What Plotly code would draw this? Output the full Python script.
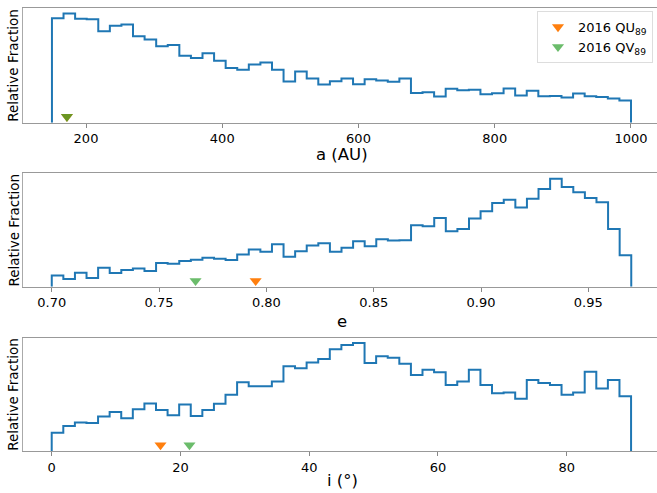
import numpy as np
import plotly.graph_objects as go

# ---- data ----
a_range = [150, 1000]
a_heights = [312, 326, 310, 309, 273, 289, 293, 258, 248, 228,
             232, 200, 193, 207, 185, 163, 158, 174, 180, 158,
             123, 153, 132, 114, 124, 132, 115, 130, 126, 122,
             132, 89, 91, 78, 101, 97, 98, 85, 88, 102,
             81, 95, 79, 80, 75, 87, 79, 77, 72, 66]

e_range = [0.70, 0.97]
e_heights = [34, 23, 42, 26, 57, 41, 50, 55, 47, 71,
             69, 77, 81, 87, 84, 80, 97, 112, 105, 128,
             90, 107, 124, 131, 105, 117, 137, 122, 143, 139,
             140, 185, 182, 207, 167, 174, 205, 227, 252, 262,
             238, 265, 294, 325, 300, 284, 267, 254, 174, 95]

i_range = [0, 90]
i_heights = [55, 76, 86, 85, 104, 118, 99, 126, 144, 124,
             108, 141, 106, 124, 143, 170, 208, 196, 196, 210,
             256, 250, 268, 278, 308, 321, 327, 266, 287, 282,
             264, 230, 246, 238, 200, 210, 246, 200, 175, 177,
             158, 215, 206, 200, 170, 177, 240, 189, 215, 166]

objects = ["2016 QU<sub>89</sub>", "2016 QV<sub>89</sub>"]
obj_a = [172, 172]
obj_e = [0.795, 0.767]
obj_i = [16.9, 21.4]
obj_colors = ["#ff7f0e", "rgba(44,160,44,0.7)"]

a_ticks = [200, 400, 600, 800, 1000]
e_ticks = [0.70, 0.75, 0.80, 0.85, 0.90, 0.95]
i_ticks = [0, 20, 40, 60, 80]

# ---- layout geometry ----
W, H = 657, 493
x0 = 23 / W
panels = [
    dict(heights=a_heights, rng=a_range, obj=obj_a, ticks=a_ticks, fmt="d",
         xr=[107.5, 1038.2], top=8, bot=122.7, title="a (AU)", tcy=154),
    dict(heights=e_heights, rng=e_range, obj=obj_e, ticks=e_ticks, fmt=".2f",
         xr=[0.6866, 0.9820], top=173.3, bot=286.7, title="e", tcy=321),
    dict(heights=i_heights, rng=i_range, obj=obj_i, ticks=i_ticks, fmt="d",
         xr=[-4.46, 94.03], top=337.5, bot=451, title="i (°)", tcy=480),
]

fig = go.Figure()
annotations = []
for k, p in enumerate(panels):
    n = k + 1
    xa = "x" if n == 1 else f"x{n}"
    ya = "y" if n == 1 else f"y{n}"
    h = p["heights"]
    edges = np.linspace(p["rng"][0], p["rng"][1], len(h) + 1)
    xs = [edges[0]] + list(edges[:-1]) + [edges[-1], edges[-1]]
    ys = [0] + list(h) + [h[-1], 0]
    fig.add_trace(go.Scatter(x=xs, y=ys, mode="lines", line_shape="hv",
                             line=dict(color="#1f77b4", width=2),
                             xaxis=xa, yaxis=ya, showlegend=False,
                             hoverinfo="skip"))
    ymax = 1.05 * max(h)
    for j, name in enumerate(objects):
        fig.add_trace(go.Scatter(x=[p["obj"][j]], y=[0.052 * ymax], mode="markers",
                                 marker=dict(symbol="triangle-down", size=10.5,
                                             color=obj_colors[j], line=dict(width=0)),
                                 name=name, showlegend=(k == 0),
                                 xaxis=xa, yaxis=ya))
    xkey = "xaxis" if n == 1 else f"xaxis{n}"
    ykey = "yaxis" if n == 1 else f"yaxis{n}"
    fig.layout[xkey] = dict(
        domain=[x0, 1], range=p["xr"], anchor=ya,
        tickvals=p["ticks"],
        ticktext=[format(t, p["fmt"]) if p["fmt"] != "d" else str(int(t)) for t in p["ticks"]],
        ticks="outside", ticklen=4, tickwidth=1, tickcolor="#888",
        showline=True, linecolor="#999", linewidth=1.2, mirror=True,
        showgrid=False, zeroline=False,
        tickfont=dict(family="DejaVu Sans", size=13, color="#000"),
    )
    fig.layout[ykey] = dict(
        domain=[(H - p["bot"]) / H, (H - p["top"]) / H], range=[0, ymax], anchor=xa,
        showticklabels=False, ticks="", showgrid=False, zeroline=False,
        showline=True, linecolor="#aaa", linewidth=1,
    )
    annotations.append(dict(text=p["title"], xref="paper", yref="paper",
                            x=342 / W, y=(H - p["tcy"]) / H, showarrow=False,
                            xanchor="center", yanchor="middle",
                            font=dict(family="DejaVu Sans", size=16.5, color="#000")))
    annotations.append(dict(text="Relative Fraction", xref="paper", yref="paper",
                            x=13.5 / W, y=(H - (p["top"] + p["bot"]) / 2) / H,
                            textangle=-90, showarrow=False,
                            xanchor="center", yanchor="middle",
                            font=dict(family="DejaVu Sans", size=13.5, color="#000")))

fig.update_layout(
    width=W, height=H,
    margin=dict(l=0, r=0, t=0, b=0, pad=0),
    paper_bgcolor="white", plot_bgcolor="white",
    annotations=annotations,
    legend=dict(x=653 / W, y=(H - 11) / H, xanchor="right", yanchor="top",
                bgcolor="white", bordercolor="#ddd", borderwidth=1,
                font=dict(family="DejaVu Sans", size=13, color="#000"),
                itemsizing="trace", tracegroupgap=0),
)

fig.write_html("out.html", config={"displayModeBar": False},
               post_script="document.body.style.margin='0px';document.body.style.overflow='hidden';")
